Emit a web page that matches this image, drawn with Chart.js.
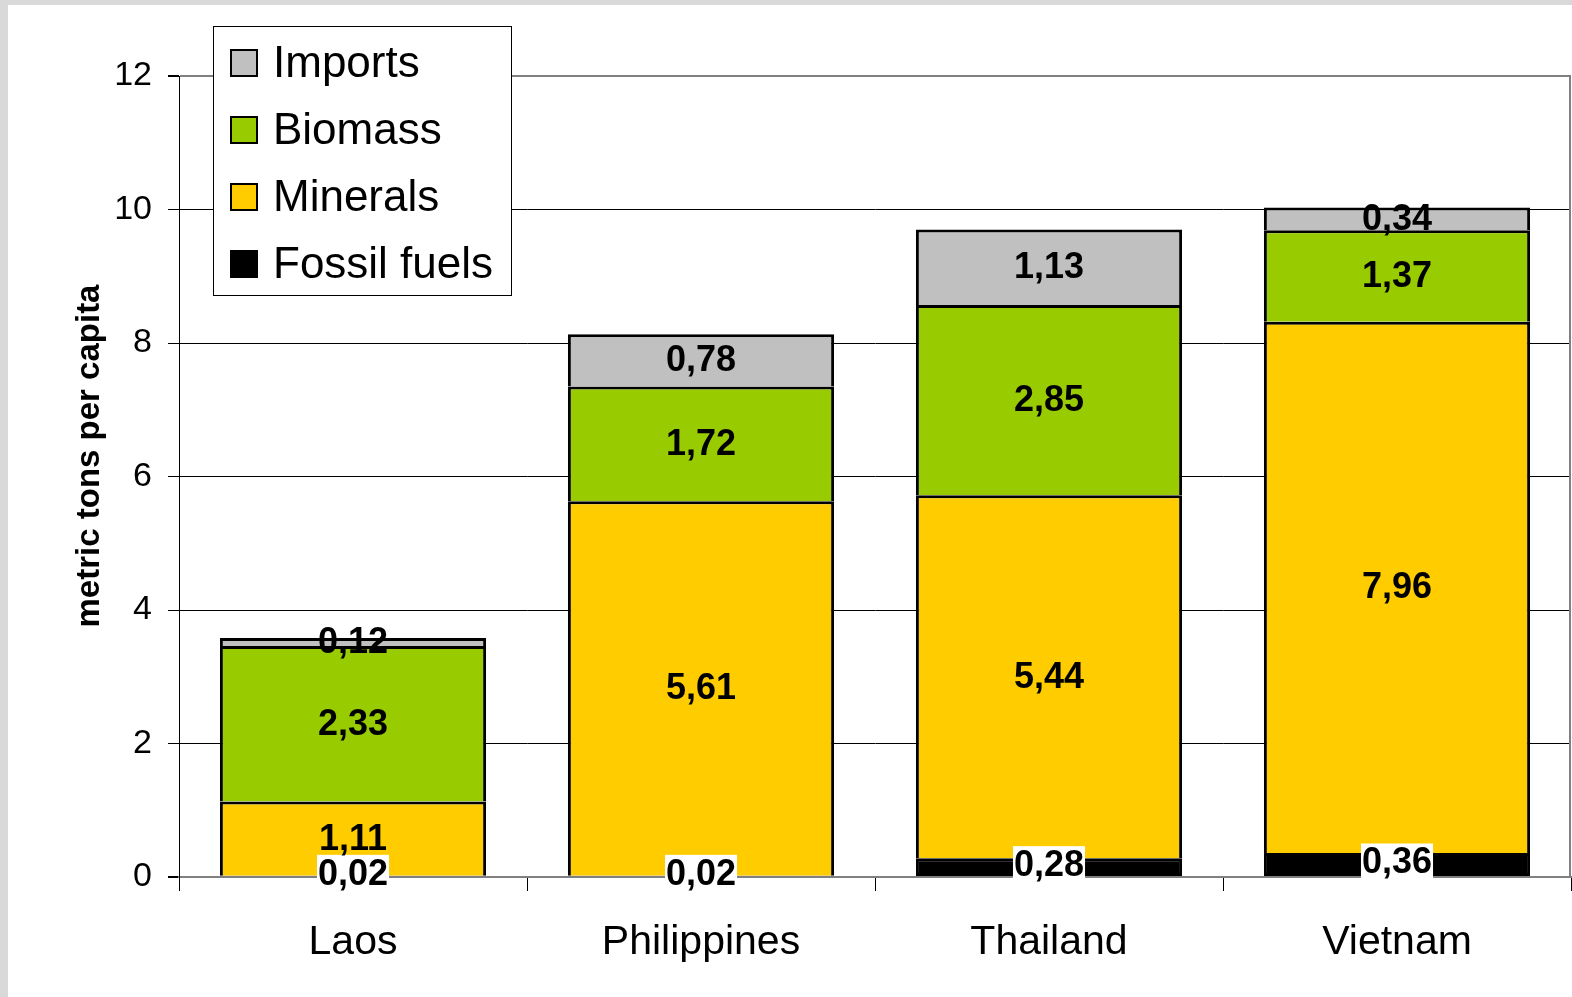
<!DOCTYPE html>
<html>
<head>
<meta charset="utf-8">
<script src="https://cdn.jsdelivr.net/npm/chart.js@4/dist/chart.umd.min.js"></script>
<style>
    html, body { margin: 0; padding: 0; background: #d9d9d9; width: 1572px; height: 997px; overflow: hidden; }
    #wrap { position: absolute; left: 8px; top: 5px; width: 1564px; height: 992px; background: #fff; }
</style>
</head>
<body>
<div id="wrap"><canvas id="material-chart"></canvas></div>
<script>
// --- Данные ---
const countries = ['Laos', 'Philippines', 'Thailand', 'Vietnam'];
const fossilFuels = [0.02, 0.02, 0.28, 0.36];
const minerals = [1.11, 5.61, 5.44, 7.96];
const biomass = [2.33, 1.72, 2.85, 1.37];
const imports = [0.12, 0.78, 1.13, 0.34];
const yTicks = [0, 2, 4, 6, 8, 10, 12];
const yTitle = 'metric tons per capita';

const FONT = "'Liberation Sans', Arial, sans-serif";

const fmt = v => v.toFixed(2).replace('.', ',');

// подписи значений внутри сегментов
const valueLabels = {
    id: 'valueLabels',
    afterDatasetsDraw(chart) {
        const c = chart.ctx;
        c.save();
        c.font = 'bold 36px ' + FONT;
        c.textAlign = 'center';
        c.textBaseline = 'middle';
        chart.data.datasets.forEach((ds, i) => {
            const meta = chart.getDatasetMeta(i);
            meta.data.forEach((bar, j) => {
                const txt = fmt(ds.data[j]);
                let y = (bar.y + bar.base) / 2;
                if (ds.whiteBox) {
                    y -= 2;
                    const w = c.measureText(txt).width;
                    c.fillStyle = '#fff';
                    c.fillRect(bar.x - w / 2 - 1, y - 19, w + 2, 37);
                }
                c.fillStyle = '#000';
                c.fillText(txt, bar.x, y + 1);
            });
        });
        c.restore();
    }
};

// рамка области графика, легенда и подпись оси Y
const frameAndLegend = {
    id: 'frameAndLegend',
    afterDraw(chart) {
        const c = chart.ctx;
        const a = chart.chartArea;
        c.save();
        c.strokeStyle = '#808080';
        c.lineWidth = 2;
        c.beginPath();
        c.moveTo(a.right - 1, a.top);
        c.lineTo(a.right - 1, a.bottom);
        c.stroke();

        // легенда
        const bx = a.left + 34, by = a.top - 50, bw = 298, bh = 269;
        c.fillStyle = '#fff';
        c.fillRect(bx, by, bw, bh);
        c.strokeStyle = '#000';
        c.lineWidth = 1;
        c.strokeRect(bx + 0.5, by + 0.5, bw, bh);
        c.font = '44px ' + FONT;
        c.textBaseline = 'middle';
        c.textAlign = 'left';
        const items = chart.data.datasets.slice().reverse();
        items.forEach((ds, k) => {
            const cy = by + 37 + k * 67;
            c.fillStyle = ds.backgroundColor;
            c.fillRect(bx + 18, cy - 13, 26, 26);
            c.lineWidth = 2;
            c.strokeStyle = '#000';
            c.strokeRect(bx + 18, cy - 13, 26, 26);
            c.fillStyle = '#000';
            c.fillText(ds.label, bx + 60, cy + 2);
        });

        // подпись оси Y
        c.font = 'bold 33px ' + FONT;
        c.textAlign = 'center';
        c.translate(82, 451);
        c.rotate(-Math.PI / 2);
        c.fillText(yTitle, 0, 0);
        c.restore();
    }
};

// у верхних сегментов нижняя граница не рисуется, чтобы разделители не были двойными
const barStyle = { borderColor: '#000', borderWidth: 3, borderSkipped: 'bottom' };

const ctx = document.getElementById('material-chart').getContext('2d');
const materialChart = new Chart(ctx, {
    type: 'bar',
    data: {
        labels: countries,
        datasets: [
            { label: 'Fossil fuels', data: fossilFuels, backgroundColor: '#000000', whiteBox: true, ...barStyle, borderSkipped: false },
            { label: 'Minerals', data: minerals, backgroundColor: '#ffcc00', ...barStyle },
            { label: 'Biomass', data: biomass, backgroundColor: '#99cc00', ...barStyle },
            { label: 'Imports', data: imports, backgroundColor: '#c0c0c0', ...barStyle }
        ]
    },
    options: {
        responsive: true,
        maintainAspectRatio: false,
        animation: false,
        layout: { padding: { top: 71, right: 1, left: 0, bottom: 0 } },
        datasets: { bar: { categoryPercentage: 1, barPercentage: 0.765 } },
        plugins: { legend: { display: false }, tooltip: { enabled: false } },
        scales: {
            x: {
                stacked: true,
                grid: { drawOnChartArea: false, tickLength: 14, color: '#000' },
                border: { color: '#808080', width: 2 },
                ticks: { color: '#000', font: { family: FONT, size: 41 }, padding: 27 },
                afterFit: s => { s.height = 120; }
            },
            y: {
                stacked: true,
                min: 0,
                max: 12,
                afterBuildTicks: s => { s.ticks = yTicks.map(v => ({ value: v })); },
                grid: {
                    color: c => (c.tick && (c.tick.value === 12 || c.tick.value === 0)) ? '#808080' : '#000',
                    lineWidth: c => (c.tick && (c.tick.value === 12 || c.tick.value === 0)) ? 2 : 1,
                    tickColor: '#000',
                    tickLength: 11
                },
                border: { color: '#000', width: 1 },
                ticks: { color: '#000', font: { family: FONT, size: 34 }, padding: 16 },
                afterFit: s => { s.width = 171; }
            }
        }
    },
    plugins: [valueLabels, frameAndLegend]
});
</script>
</body>
</html>
